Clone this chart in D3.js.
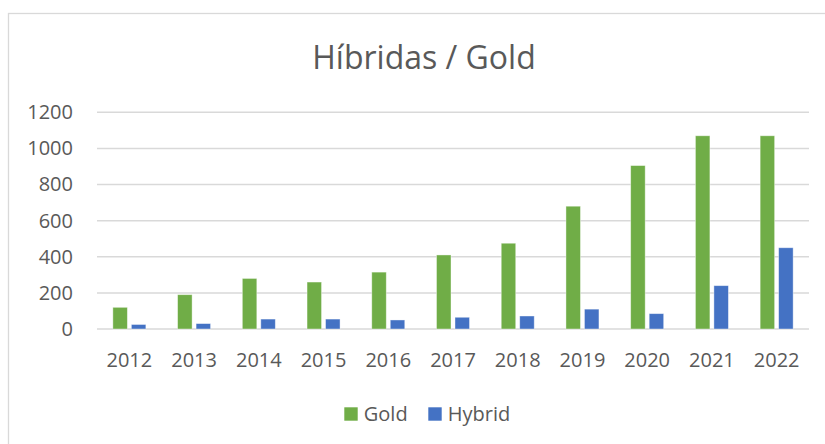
<!DOCTYPE html>
<html>
<head>
<meta charset="utf-8">
<script src="https://cdn.jsdelivr.net/npm/d3@7"></script>
<style>
  html, body { margin: 0; padding: 0; background: #fff; }
  svg { display: block; }
  text { font-family: "Open Sans", sans-serif; fill: #595959; }
</style>
</head>
<body>
<svg id="chart" width="825" height="444"></svg>
<script>
const categories = ["2012","2013","2014","2015","2016","2017","2018","2019","2020","2021","2022"];
const seriesNames = ["Gold", "Hybrid"];
const goldValues = [120, 190, 280, 260, 315, 410, 475, 680, 905, 1070, 1070];
const hybridValues = [25, 30, 55, 55, 50, 65, 72, 110, 85, 240, 450];
const yTicks = [0, 200, 400, 600, 800, 1000, 1200];
const title = "Híbridas / Gold";
const colors = ["#70AD47", "#4472C4"];

const svg = d3.select("#chart");
const seriesValues = [goldValues, hybridValues];

// chart frame
svg.append("rect")
  .attr("x", 8.5).attr("y", 13.5)
  .attr("width", 840).attr("height", 450)
  .attr("fill", "#fff")
  .attr("stroke", "#D9D9D9").attr("stroke-width", 1.3);

const plot = { left: 97, right: 809, top: 112.3, bottom: 329 };

const y = d3.scaleLinear().domain([0, 1200]).range([plot.bottom, plot.top]);
const x0 = d3.scaleBand().domain(categories).range([plot.left, plot.right]).padding(0);
const groupW = 33;
const x1 = d3.scaleBand().domain(seriesNames).range([0, groupW]).paddingInner(0.216).paddingOuter(0);

// gridlines
svg.append("g")
  .selectAll("line")
  .data(yTicks)
  .join("line")
  .attr("x1", plot.left).attr("x2", plot.right)
  .attr("y1", d => y(d)).attr("y2", d => y(d))
  .attr("stroke", "#D9D9D9").attr("stroke-width", 1.5);

// y axis labels
const yAxis = d3.axisLeft(y).tickValues(yTicks).tickFormat(d3.format("d")).tickSize(0).tickPadding(0);
const yG = svg.append("g").attr("transform", `translate(73,0)`).call(yAxis);
yG.select(".domain").remove();
yG.selectAll("text")
  .attr("font-size", 20)
  .attr("font-family", "Open Sans, sans-serif")
  .attr("fill", "#595959");

// x axis labels
const xAxis = d3.axisBottom(x0).tickSize(0).tickPadding(0);
const xG = svg.append("g").attr("transform", `translate(0,${plot.bottom})`).call(xAxis);
xG.select(".domain").remove();
xG.selectAll("text")
  .attr("font-size", 20)
  .attr("font-family", "Open Sans, sans-serif")
  .attr("fill", "#595959")
  .attr("dy", null)
  .attr("y", 38);

// bars
const groups = svg.append("g")
  .selectAll("g")
  .data(categories)
  .join("g")
  .attr("transform", d => `translate(${x0(d) + (x0.bandwidth() - groupW) / 2},0)`);

groups.selectAll("rect")
  .data((d, i) => seriesNames.map((s, k) => ({ s, k, v: seriesValues[k][i] })))
  .join("rect")
  .attr("x", d => x1(d.s))
  .attr("width", x1.bandwidth())
  .attr("y", d => y(d.v))
  .attr("height", d => y(0) - y(d.v))
  .attr("fill", d => colors[d.k])
  .attr("stroke", "rgba(255,255,255,0.5)")
  .attr("stroke-width", 0.8);

// title
svg.append("text")
  .attr("x", 424).attr("y", 69)
  .attr("text-anchor", "middle")
  .attr("font-size", 32)
  .text(title);

// legend
const legendItems = [
  { name: seriesNames[0], color: colors[0], x: 344.3 },
  { name: seriesNames[1], color: colors[1], x: 428.3 }
];
const lg = svg.append("g");
legendItems.forEach(it => {
  lg.append("rect").attr("x", it.x).attr("y", 407.3).attr("width", 13.4).attr("height", 13.4).attr("fill", it.color);
  lg.append("text").attr("x", it.x + 19.5).attr("y", 420.5).attr("font-size", 20).text(it.name);
});
</script>
</body>
</html>
